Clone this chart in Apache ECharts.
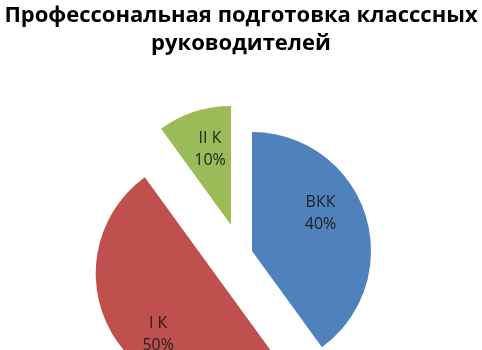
<!DOCTYPE html>
<html>
<head>
<meta charset="utf-8">
<script src="https://cdn.jsdelivr.net/npm/echarts@6/dist/echarts.min.js"></script>
<style>html,body{margin:0;padding:0;background:#fff}#c{width:482px;height:350px}</style>
</head>
<body>
<div id="c"></div>
<script>
const titleText = 'Профессональная подготовка класссных\nруководителей';
const categories = ['ВКК', 'I К', 'II К'];
const values = [40, 50, 10];

const palette = ['#4F81BD', '#C0504D', '#9BBB59'];
const explode = [12, 32, 31];
const labelShift = [[9, -26], [-32, 50], [14, -16]];

const chart = echarts.init(document.getElementById('c'), null, {renderer: 'canvas'});

const series = categories.map(function (_, owner) {
  return {
    type: 'pie',
    center: [240.6, 254.6],
    radius: 119,
    startAngle: 90,
    clockwise: true,
    selectedMode: 'multiple',
    selectedOffset: explode[owner],
    silent: true,
    animation: false,
    emphasis: {disabled: true},
    labelLine: {show: false},
    labelLayout: function (p) {
      return {dx: labelShift[p.dataIndex][0], dy: labelShift[p.dataIndex][1]};
    },
    data: categories.map(function (name, i) {
      const mine = i === owner;
      const lbl = {
        show: mine,
        position: 'inside',
        formatter: '{b}\n{d}%',
        fontFamily: 'Open Sans',
        fontSize: 16,
        lineHeight: 22,
        color: '#1f1f1f'
      };
      const st = {color: palette[i], opacity: mine ? 1 : 0, borderWidth: 0};
      return {
        name: name,
        value: values[i],
        selected: mine,
        itemStyle: st,
        label: lbl,
        select: {itemStyle: st, label: lbl}
      };
    })
  };
});

chart.setOption({
  backgroundColor: '#ffffff',
  title: {
    text: titleText,
    left: 'center',
    top: -3,
    textStyle: {
      fontFamily: 'Open Sans',
      fontWeight: 'bold',
      fontSize: 22,
      lineHeight: 28,
      color: '#000000'
    }
  },
  series: series
});
</script>
</body>
</html>
